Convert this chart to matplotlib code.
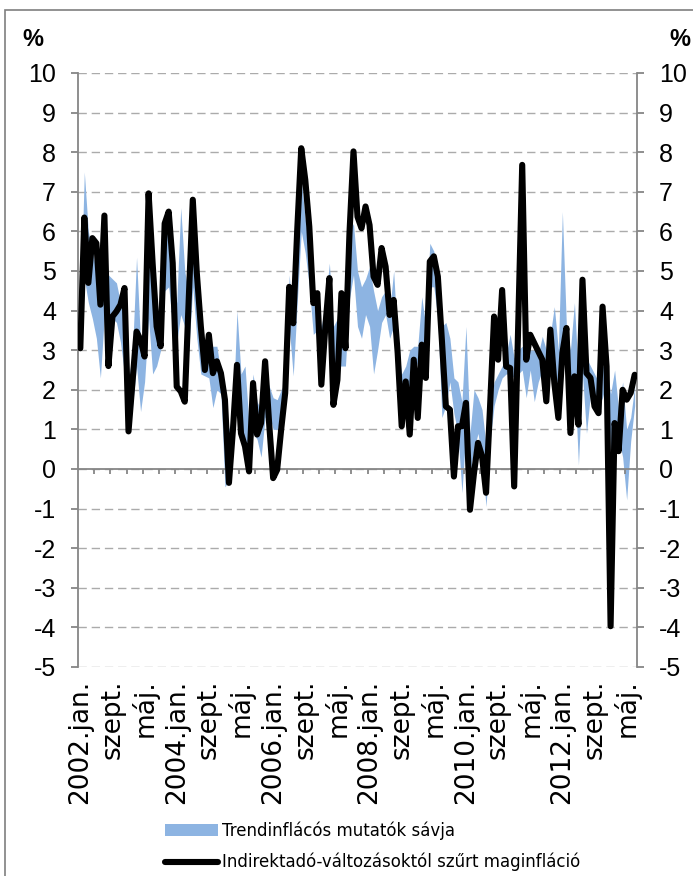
import numpy as np
import matplotlib.pyplot as plt
from matplotlib.patches import Rectangle

plt.rcParams['axes.unicode_minus'] = False

# month names used on the category axis
months_hu = ['jan.', 'febr.', 'márc.', 'ápr.', 'máj.', 'jún.',
             'júl.', 'aug.', 'szept.', 'okt.', 'nov.', 'dec.']
years = range(2002, 2014)
categories = [(f'{y}.{m}' if m == 'jan.' else m) for y in years for m in months_hu][:139]

# Indirektadó-változásoktól szűrt maginfláció (%), 2002.jan - 2013.júl
core_filtered = [
    3.05, 6.35, 4.7, 5.83, 5.7, 4.15, 6.4, 2.6, 3.85, 3.98, 4.15, 4.57,
    0.95, 2.2, 3.47, 3.26, 2.84, 6.96, 5.2, 3.6, 3.1, 6.2, 6.5, 5.2,
    2.08, 1.96, 1.7, 4.31, 6.8, 4.95, 3.6, 2.5, 3.39, 2.42, 2.72, 2.42,
    1.75, -0.35, 1.0, 2.63, 0.9, 0.57, -0.06, 2.17, 0.87, 1.16, 2.72, 1.16,
    -0.23, -0.02, 1.0, 1.92, 4.6, 3.68, 6.04, 8.1, 7.3, 6.12, 4.19, 4.44,
    2.13, 3.6, 4.82, 1.62, 2.25, 4.44, 3.05, 5.95, 8.02, 6.37, 6.08, 6.63,
    6.16, 4.86, 4.65, 5.58, 5.11, 3.89, 4.27, 2.93, 1.08, 2.21, 0.87, 2.76,
    1.29, 3.14, 2.3, 5.24, 5.37, 4.86, 3.26, 1.58, 1.5, -0.19, 1.08, 1.08,
    1.67, -1.03, -0.1, 0.66, 0.32, -0.6, 1.58, 3.85, 2.76, 4.52, 2.59, 2.55,
    -0.44, 3.6, 7.68, 2.76, 3.39, 3.18, 2.97, 2.76, 1.71, 3.52, 2.17, 1.29,
    2.93, 3.56, 0.91, 2.34, 1.12, 4.78, 2.42, 2.3, 1.58, 1.41, 4.1, 2.59,
    -3.97, 1.16, 0.45, 2.0, 1.75, 1.92, 2.38,
]

# Trendinflációs mutatók sávja: alsó és felső széle (%)
trend_low = [
    3.2, 4.8, 4.2, 3.8, 3.3, 2.3, 3.9, 3.6, 3.8, 3.7, 3.2, 2.4,
    1.3, 1.6, 2.6, 1.45, 2.2, 3.8, 2.4, 2.6, 3.0, 4.5, 4.6, 3.6,
    3.2, 3.9, 3.6, 3.0, 4.6, 3.3, 2.4, 2.35, 2.3, 1.55, 2.0, 1.9,
    -0.45, -0.3, 0.8, 2.0, 1.0, 0.4, 0.1, 0.9, 0.75, 0.3, 1.3, 1.4,
    1.0, 1.0, 1.3, 1.7, 3.6, 2.35, 4.2, 6.0, 5.45, 4.6, 3.4, 3.5,
    3.2, 3.3, 3.8, 2.5, 2.6, 2.6, 2.6, 4.3, 4.9, 3.6, 3.3, 3.9,
    3.6, 2.4, 3.0, 3.7, 3.9, 3.3, 3.6, 2.6, 1.1, 2.1, 2.1, 2.4,
    2.7, 2.9, 2.9, 4.6, 4.6, 3.8, 1.3, 1.6, 2.2, 1.4, 0.9, -0.6,
    1.0, -0.1, 0.5, 0.9, 0.2, -0.95, 0.7, 1.6, 2.0, 2.3, 2.4, 2.4,
    2.3, 2.4, 2.5, 1.8, 2.5, 1.7, 2.2, 2.5, 2.4, 2.6, 2.5, 2.0,
    2.7, 2.6, 1.6, 2.4, 0.1, 2.4, 0.9, 1.9, 1.9, 1.6, 1.8, 2.2,
    0.5, 0.8, 0.8, 0.3, -0.78, 0.7, 1.6,
]
trend_high = [
    4.0, 7.5, 6.0, 5.5, 5.0, 4.3, 5.2, 4.9, 4.8, 4.7, 4.2, 4.2,
    2.2, 3.0, 5.35, 3.2, 3.0, 5.2, 4.6, 3.9, 3.6, 6.2, 5.8, 4.8,
    4.2, 6.6, 5.0, 4.4, 5.5, 4.5, 3.3, 3.1, 2.9, 3.1, 3.1, 2.4,
    1.9, 1.0, 1.4, 4.0, 2.4, 2.6, 1.1, 2.4, 1.7, 1.5, 2.4, 2.1,
    1.8, 1.75, 2.0, 2.2, 4.9, 3.8, 5.7, 7.3, 6.3, 5.9, 4.2, 4.0,
    3.6, 4.2, 5.2, 3.6, 3.8, 3.5, 3.6, 6.0, 6.2, 5.0, 4.6, 4.8,
    5.1, 4.5, 4.0, 4.35, 4.5, 4.0, 5.0, 3.2, 2.4, 2.6, 3.0, 3.1,
    3.1, 4.35, 3.6, 5.7, 5.5, 4.6, 3.6, 3.7, 3.3, 2.3, 2.2, 1.7,
    3.6, 0.9, 2.0, 1.8, 1.5, 0.6, 1.6, 2.2, 2.4, 2.6, 2.9, 3.4,
    2.8, 3.0, 3.1, 2.9, 3.0, 3.0, 2.9, 3.35, 3.0, 3.4, 4.1, 3.0,
    6.5, 3.6, 3.0, 4.2, 2.3, 3.3, 2.8, 2.6, 2.4, 2.2, 2.6, 2.6,
    1.9, 2.5, 1.5, 2.2, 1.0, 1.3, 2.1,
]

band_label = 'Trendinflácós mutatók sávja'
line_label = 'Indirektadó-változásoktól szűrt maginfláció'

W, H = 693, 876
axis_grey = '#868686'

fig = plt.figure(figsize=(W / 100, H / 100), dpi=100)
ax = fig.add_axes([78.3 / W, 1 - 667 / H, 558.4 / W, 594 / H])

x = np.arange(len(categories))
band = ax.fill_between(x, trend_low, trend_high, color='#8DB4E2', lw=0,
                       label=band_label, zorder=2)
line, = ax.plot(x, core_filtered, color='black', lw=4.4,
                solid_joinstyle='round', solid_capstyle='round',
                label=line_label, zorder=4)

ax.set_xlim(-0.5, len(x) - 0.5)
ax.set_ylim(-5, 10)
ax.set_yticks(range(-5, 11))
ax.yaxis.grid(True, ls=(0, (6, 3.5)), color='#ABABAB', lw=1.0, zorder=1)

# zero axis with category tick marks (every 4 months, between categories)
ax.axhline(0, color=axis_grey, lw=1.3, zorder=3)
ax.vlines(np.arange(3.5, len(x), 4), -0.13, 0, color=axis_grey, lw=1.3, zorder=3)

for side in ['top', 'bottom']:
    ax.spines[side].set_visible(False)
for side in ['left', 'right']:
    ax.spines[side].set_color(axis_grey)
    ax.spines[side].set_linewidth(1.3)

ax.tick_params(axis='y', left=True, right=True, labelleft=True, labelright=True,
               direction='out', length=5, width=1.3, color=axis_grey,
               labelsize=18, pad=11)
for t in ax.yaxis.get_major_ticks():
    t.label1.set_fontfamily(['Liberation Sans Narrow', 'Liberation Sans'])
    t.label2.set_fontfamily(['Liberation Sans Narrow', 'Liberation Sans'])

ax.set_xticks(x[::8])
ax.set_xticklabels(categories[::8], rotation=90, fontsize=19,
                   family='DejaVu Sans')
ax.tick_params(axis='x', length=0, pad=9)

fig.text(22 / W, 1 - 40 / H, '%', fontsize=17, fontweight='bold',
         ha='left', va='center', family='Liberation Sans')
fig.text(669 / W, 1 - 40 / H, '%', fontsize=17, fontweight='bold',
         ha='left', va='center', family='Liberation Sans')

fig.legend([band, line], [band_label, line_label], loc='upper left',
           bbox_to_anchor=(150 / W, 1 - 806 / H), frameon=False,
           prop={'family': 'DejaVu Sans', 'size': 12},
           handlelength=3.2, handletextpad=0.2, labelspacing=0.8)

# outer frame of the chart
fig.add_artist(Rectangle((5 / W, -0.05), 2, 1.05 - 10 / H,
                         transform=fig.transFigure, fill=False,
                         ec='#7F7F7F', lw=1.2))

fig.savefig('out.png', dpi=100)
